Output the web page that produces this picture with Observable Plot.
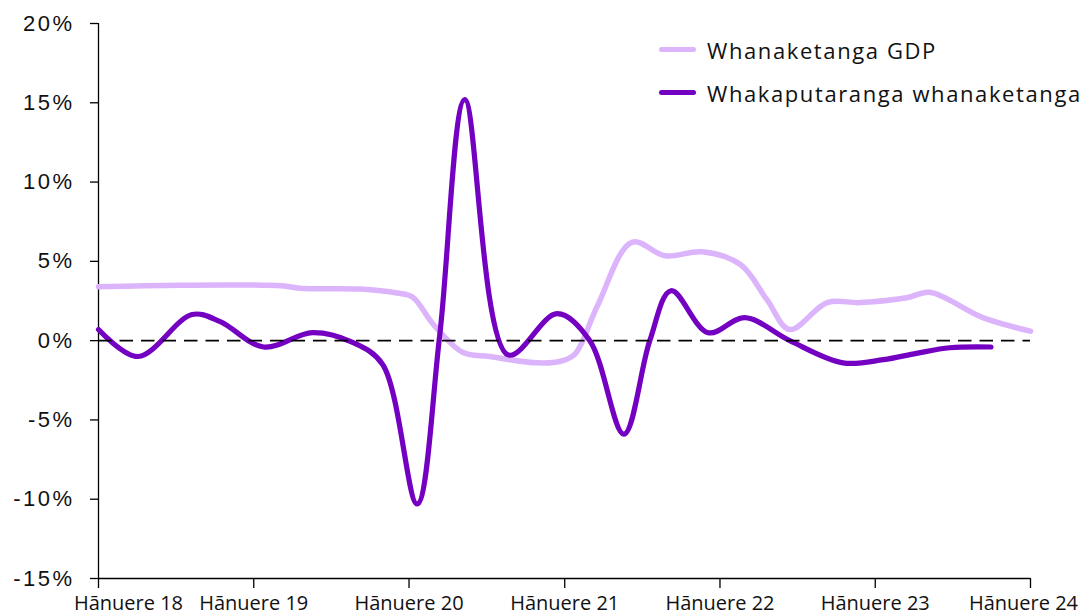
<!DOCTYPE html>
<html><head><meta charset="utf-8">
<script src="https://cdn.jsdelivr.net/npm/d3@7"></script>
<script src="https://cdn.jsdelivr.net/npm/@observablehq/plot@0.6"></script>
<style>
body{margin:0;background:#fff;}
#wrap{position:relative;width:1089px;height:616px;overflow:hidden;}
#legend{position:absolute;left:659px;top:28px;font-family:"Open Sans";font-size:22px;letter-spacing:1.6px;color:#111;white-space:nowrap;}
.item{display:flex;align-items:center;height:43px;}
.sw{width:37px;height:5.5px;border-radius:3px;margin-right:11px;}
g[aria-label="y-axis tick label"] text{letter-spacing:2.5px;}
</style></head><body><div id="wrap"><div id="legend"></div></div>
<script>
// Whanaketanga GDP (annual GDP growth, %)
const gdpDates = ["2018-01-01","2018-07-11","2019-01-17","2019-03-14","2019-04-19","2019-09-08","2019-12-04","2020-01-09","2020-02-28","2020-05-07","2020-07-08","2020-10-29","2020-12-22","2021-01-25","2021-03-19","2021-06-08","2021-08-25","2021-11-20","2022-02-18","2022-04-21","2022-06-14","2022-09-10","2022-11-27","2023-03-16","2023-05-09","2023-09-11","2024-01-01"];
const gdpValues = [3.4,3.5,3.5,3.45,3.3,3.25,3.0,2.75,1.0,-0.75,-1.0,-1.4,-1.3,-0.85,2.2,6.2,5.35,5.6,4.8,2.6,0.7,2.4,2.4,2.7,3.05,1.45,0.6];
// Whakaputaranga whanaketanga (%)
const growthDates = ["2018-01-01","2018-04-04","2018-08-09","2018-10-14","2019-01-24","2019-05-19","2019-08-20","2019-10-31","2020-01-20","2020-03-13","2020-05-11","2020-08-21","2020-12-14","2021-03-01","2021-05-20","2021-07-20","2021-09-08","2021-12-04","2022-02-28","2022-06-14","2022-10-17","2023-01-20","2023-04-08","2023-06-25","2023-09-30"];
const growthValues = [0.7,-1.0,1.65,1.2,-0.4,0.5,-0.1,-1.5,-10.3,0.3,15.2,-0.9,1.7,0.0,-5.9,0.0,3.15,0.5,1.45,0.0,-1.4,-1.2,-0.8,-0.45,-0.4];

const tickDates = ["2018-01-01","2019-01-01","2020-01-01","2021-01-01","2022-01-01","2023-01-01","2024-01-01"];
const tickLabels = ["Hānuere 18","Hānuere 19","Hānuere 20","Hānuere 21","Hānuere 22","Hānuere 23","Hānuere 24"];
const yTicks = [-15,-10,-5,0,5,10,15,20];
const seriesNames = ["Whanaketanga GDP","Whakaputaranga whanaketanga"];
const seriesColors = ["#dcb4fc","#7400c2"];

const parse = d3.utcParse("%Y-%m-%d");
const gdp = gdpDates.map((d,i)=>({date:parse(d), value:gdpValues[i]}));
const growth = growthDates.map((d,i)=>({date:parse(d), value:growthValues[i]}));
const ticks = tickDates.map(parse);
const labelFor = d => tickLabels[ticks.findIndex(t => +t === +d)];

const xLabelOpts = {tickSize:0, tickPadding:17, tickFormat:labelFor, fontSize:20, fontFamily:"Open Sans", fill:"#111", label:null};

const chart = Plot.plot({
  width:1089, height:616,
  marginLeft:98, marginRight:59, marginTop:23, marginBottom:38,
  x:{type:"utc", domain:[ticks[0], ticks[ticks.length-1]]},
  y:{domain:[-15,20]},
  style:{background:"white", color:"black", overflow:"visible"},
  marks:[
    Plot.axisY({ticks:yTicks, tickSize:8, tickPadding:16, tickFormat:d=>d+"%", fontSize:22, fontFamily:"Liberation Sans", fill:"#111", stroke:"black", strokeWidth:1.3, label:null}),
    Plot.axisX({ticks:ticks, tickSize:10, tickFormat:()=>"", stroke:"black", strokeWidth:1.3, label:null}),
    Plot.axisX({...xLabelOpts, ticks:[ticks[0]], dx:30}),
    Plot.axisX({...xLabelOpts, ticks:ticks.slice(1,-1)}),
    Plot.axisX({...xLabelOpts, ticks:[ticks[ticks.length-1]], dx:-7}),
    Plot.ruleX([ticks[0]], {y1:-15, y2:20, stroke:"black", strokeWidth:1.3}),
    Plot.ruleY([-15], {stroke:"black", strokeWidth:1.3}),
    Plot.line(gdp, {x:"date", y:"value", stroke:seriesColors[0], strokeWidth:5.5, curve:"catmull-rom", strokeLinecap:"round", strokeLinejoin:"round"}),
    Plot.line(growth, {x:"date", y:"value", stroke:seriesColors[1], strokeWidth:5.2, curve:"catmull-rom", strokeLinecap:"round", strokeLinejoin:"round"}),
    Plot.ruleY([0], {stroke:"black", strokeWidth:1.6, strokeDasharray:"13.5,8"})
  ]
});
document.getElementById("wrap").prepend(chart);

const legend = document.getElementById("legend");
seriesNames.forEach((name,i)=>{
  const item = document.createElement("div"); item.className="item";
  const sw = document.createElement("div"); sw.className="sw"; sw.style.background = seriesColors[i];
  const tx = document.createElement("span"); tx.textContent = name;
  item.append(sw, tx); legend.append(item);
});
</script></body></html>
